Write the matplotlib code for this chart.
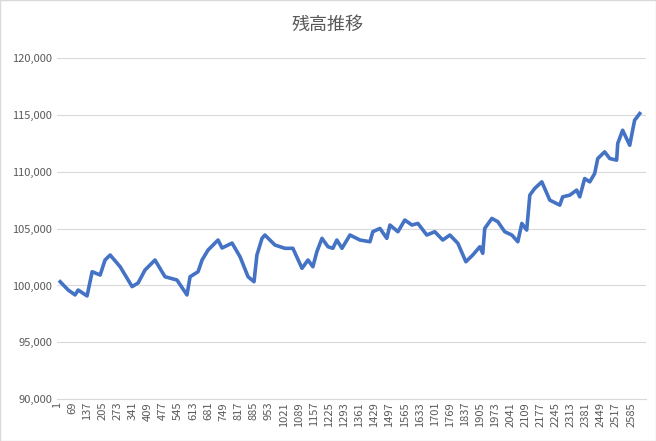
import matplotlib
matplotlib.use("Agg")
import matplotlib.pyplot as plt
from matplotlib.ticker import FuncFormatter

plt.rcParams['font.family'] = ['Noto Sans CJK JP', 'DejaVu Sans']

idx = [14,50,81,95,135,158,194,216,239,284,338,365,396,441,486,540,585,599,635,653,680,725,743,788,824,860,887,900,923,936,981,1026,1062,1103,1130,1152,1170,1193,1220,1242,1260,1283,
       1319,1364,1409,1422,1454,1485,1499,1535,1566,1598,1625,1665,1701,1737,1769,1805,1841,1872,1904,1917,1926,1958,1985,2016,2048,2075,2093,2115,2129,2151,2183,2219,2264,2277,2309,2340,2354,2376,2399,2421,2435,2466,2489,2520,2525,2547,2579,2592,2601,2624]
vals = [100330,99600,99170,99600,99080,101210,100920,102240,102680,101650,99900,100220,101360,102240,100770,100480,99170,100770,101210,102240,103120,104000,103300,103730,102530,100770,100330,102680,104150,104440,103560,103270,103270,101510,102240,101650,102970,104150,103410,103270,104000,103270,
        104440,104000,103850,104730,105020,104150,105320,104730,105760,105320,105460,104440,104730,104000,104440,103710,102090,102680,103410,102830,105020,105900,105610,104730,104440,103850,105460,104880,107950,108540,109120,107510,107070,107800,107950,108390,107800,109410,109120,109850,111170,111760,111170,111030,112500,113660,112340,113660,114540,115130]
tick_labels = list(range(1, 2600, 68))

fig = plt.figure(figsize=(6.56, 4.41), dpi=100)
ax = fig.add_axes([0.087, 0.095, 0.897, 0.773])
ax.plot(idx, vals, color='#4472C4', lw=2.6)
ax.set_xlim(0, 2650)
ax.set_ylim(90000, 120000)
ax.set_yticks(range(90000, 120001, 5000))
ax.yaxis.set_major_formatter(FuncFormatter(lambda v, p: f"{int(v):,}"))
ax.set_xticks(tick_labels)
ax.set_xticklabels([str(t) for t in tick_labels], rotation=90)
ax.tick_params(axis='both', length=0, labelsize=8, colors='#595959')
ax.tick_params(axis='x', pad=2)
ax.grid(axis='y', color='#D9D9D9', lw=0.8)
ax.set_axisbelow(True)
for s in ['top', 'right', 'left']:
    ax.spines[s].set_visible(False)
ax.spines['bottom'].set_color('#D9D9D9')
fig.suptitle('残高推移', y=0.965, fontsize=13, color='#595959')
fig.patches.append(plt.Rectangle((0, 0), 1, 1, transform=fig.transFigure, fill=False, ec='#D9D9D9', lw=1))
fig.savefig('out.png', dpi=100)
